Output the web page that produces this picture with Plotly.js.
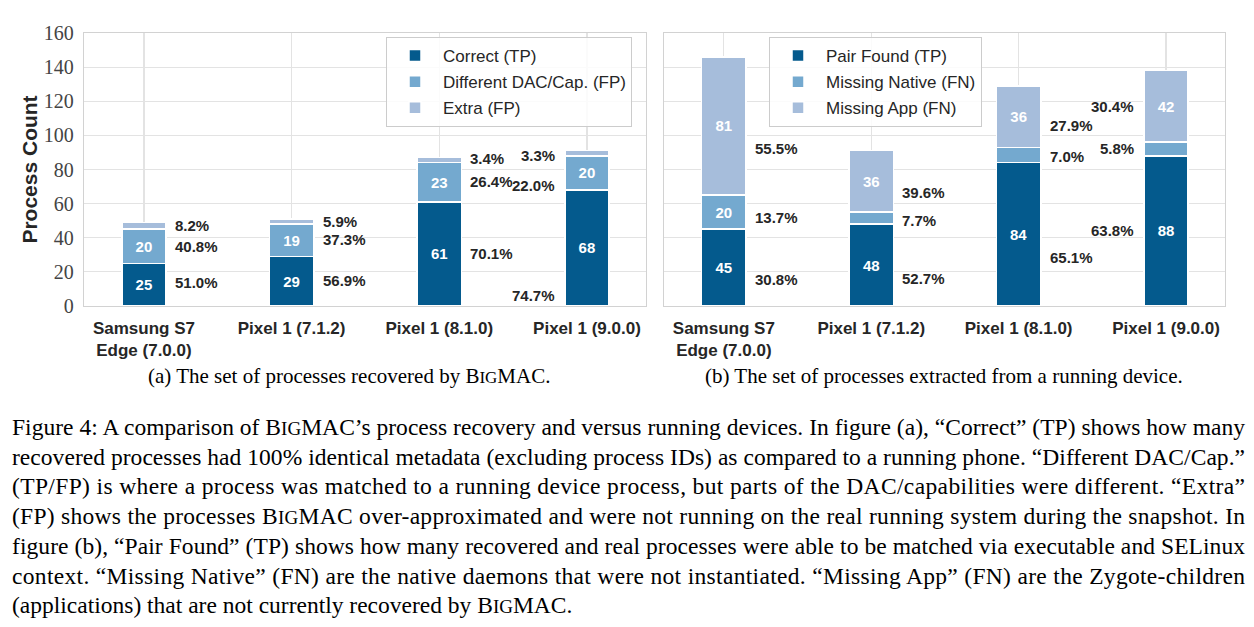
<!DOCTYPE html>
<html><head><meta charset="utf-8">
<script src="https://cdn.plot.ly/plotly-3.0.1.min.js"></script>
<style>html,body{margin:0;padding:0;background:#fff}</style>
</head><body><div id="chart" style="width:1254px;height:627px"></div>
<script>
// ---- data ----
const devices = ["Samsung S7<br>Edge (7.0.0)", "Pixel 1 (7.1.2)", "Pixel 1 (8.1.0)", "Pixel 1 (9.0.0)"];
// (a) recovered by BigMAC
const correct = [25, 29, 61, 68];
const diffDac = [20, 19, 23, 20];
const extra = [4, 3, 3, 3];
// (b) extracted from running device
const pairFound = [45, 48, 84, 88];
const missingNative = [20, 7, 9, 8];
const missingApp = [81, 36, 36, 42];
// vertical placement (value units) of the percentage labels
const pctYCorrect = [13.5, 15.2, 31, 6];
const pctYDiff = [34.6, 38.7, 72.7, 70.4];
const pctYExtra = [46.9, 49.8, 86.5, 88.1];
const pctYPair = [15.7, 16.4, 28.7, 44.5];
const pctYNative = [52, 50.4, 87.9, 92.6];
const pctYApp = [92.5, 66.8, 105.5, 117.2];
const pctSide = ["right", "right", "right", "left"];
const seriesA = ["Correct (TP)", "Different DAC/Cap. (FP)", "Extra (FP)"];
const seriesB = ["Pair Found (TP)", "Missing Native (FN)", "Missing App (FN)"];

// ---- styles ----
const COLORS = ["#045a8d", "#74a9cf", "#a6bddb"];
const SANS = "Liberation Sans, Arial, sans-serif";
const SERIF = "Liberation Serif, Times New Roman, serif";
const TXT = "#262626";
const BARW = 0.30;
const xs = [0, 1, 2, 3];

const L = 84, R = 1225, T = 33, B = 306;
const px = x => (x - L) / (R - L);
const py = y => (B - y) / (B - T);

const inLabel = v => v.map(d => d >= 10 ? String(d) : "");

function barTrace(vals, name, color, xa, ya, legend, grp) {
  return {
    type: "bar", x: xs, y: vals, width: BARW, name: name,
    xaxis: xa, yaxis: ya, legend: legend, legendgroup: grp,
    marker: {color: color, line: {color: "white", width: 1.5}},
    text: inLabel(vals), textposition: "inside", insidetextanchor: "middle",
    textangle: 0, constraintext: "none",
    textfont: {family: SANS, size: 15, color: "white", weight: "bold"},
    hoverinfo: "skip"
  };
}

const data = [
  barTrace(correct, seriesA[0], COLORS[0], "x", "y", "legend", "a1"),
  barTrace(diffDac, seriesA[1], COLORS[1], "x", "y", "legend", "a2"),
  barTrace(extra, seriesA[2], COLORS[2], "x", "y", "legend", "a3"),
  barTrace(pairFound, seriesB[0], COLORS[0], "x2", "y2", "legend2", "b1"),
  barTrace(missingNative, seriesB[1], COLORS[1], "x2", "y2", "legend2", "b2"),
  barTrace(missingApp, seriesB[2], COLORS[2], "x2", "y2", "legend2", "b3")
];

const annotations = [];
function pctLabels(seriesList, yList, xref, yref) {
  const totals = xs.map(i => seriesList.reduce((s, v) => s + v[i], 0));
  seriesList.forEach((vals, k) => {
    xs.forEach(i => {
      const right = pctSide[i] === "right";
      annotations.push({
        xref: xref, yref: yref, x: right ? i + BARW / 2 : i - BARW / 2, y: yList[k][i],
        xanchor: right ? "left" : "right", yanchor: "middle", xshift: right ? 7 : -8,
        showarrow: false, text: (vals[i] / totals[i] * 100).toFixed(1) + "%",
        font: {family: SANS, size: 15, color: TXT, weight: "bold"}
      });
    });
  });
}
pctLabels([correct, diffDac, extra], [pctYCorrect, pctYDiff, pctYExtra], "x", "y");
pctLabels([pairFound, missingNative, missingApp], [pctYPair, pctYNative, pctYApp], "x2", "y2");

const sc = size => "B<span style='font-size:" + size + "px'>IG</span>MAC";
annotations.push({xref: "paper", yref: "paper", x: px(348.5), y: py(376), xanchor: "center", yanchor: "middle",
  showarrow: false, text: "(a) The set of processes recovered by " + sc(17) + ".", font: {family: SERIF, size: 21, color: "#000"}});
annotations.push({xref: "paper", yref: "paper", x: px(943.5), y: py(376), xanchor: "center", yanchor: "middle",
  showarrow: false, text: "(b) The set of processes extracted from a running device.", font: {family: SERIF, size: 21, color: "#000"}});

const captionLines = [
  "Figure 4: A comparison of " + sc(19) + "’s process recovery and versus running devices. In figure (a), “Correct” (TP) shows how many",
  "recovered processes had 100% identical metadata (excluding process IDs) as compared to a running phone. “Different DAC/Cap.”",
  "(TP/FP) is where a process was matched to a running device process, but parts of the DAC/capabilities were different. “Extra”",
  "(FP) shows the processes " + sc(19) + " over-approximated and were not running on the real running system during the snapshot. In",
  "figure (b), “Pair Found” (TP) shows how many recovered and real processes were able to be matched via executable and SELinux",
  "context. “Missing Native” (FN) are the native daemons that were not instantiated. “Missing App” (FN) are the Zygote-children",
  "(applications) that are not currently recovered by " + sc(19) + "."
];
const captionStart = annotations.length;
captionLines.forEach((t, k) => {
  annotations.push({xref: "paper", yref: "paper", x: px(10), y: py(427 + k * 29.7), xanchor: "left", yanchor: "middle",
    showarrow: false, text: t, font: {family: SERIF, size: 23.5, color: "#000"}});
});

const xBase = {
  range: [-0.406, 3.40], tickvals: xs, ticktext: devices, showgrid: true, gridcolor: "#e3e3e3", gridwidth: 1.2,
  showline: true, mirror: true, linecolor: "#d2d2d2", linewidth: 1.3, zeroline: false,
  ticks: "outside", ticklen: 6, tickcolor: "rgba(0,0,0,0)",
  tickfont: {family: SANS, size: 17, color: TXT, weight: "bold"}, fixedrange: true
};
const yBase = {
  range: [0, 160], dtick: 20, showgrid: true, gridcolor: "#e3e3e3", gridwidth: 1.2,
  showline: true, mirror: true, linecolor: "#d2d2d2", linewidth: 1.3, zeroline: false,
  ticks: "outside", ticklen: 5, tickcolor: "rgba(0,0,0,0)", fixedrange: true,
  tickfont: {family: SERIF, size: 20, color: "#444"}
};
const legBase = {
  yanchor: "top", xanchor: "left", y: py(37), bgcolor: "rgba(255,255,255,0.85)",
  bordercolor: "#cccccc", borderwidth: 1, traceorder: "grouped", tracegroupgap: 1, itemwidth: 46,
  font: {family: SANS, size: 17, color: TXT}
};

const layout = {
  width: 1254, height: 627, margin: {l: L, r: 1254 - R, t: T, b: 627 - B},
  paper_bgcolor: "white", plot_bgcolor: "white", barmode: "stack", showlegend: true,
  xaxis: Object.assign({}, xBase, {domain: [0, px(646)], anchor: "y"}),
  yaxis: Object.assign({}, yBase, {anchor: "x",
    title: {text: "Process Count", standoff: 0, font: {family: SANS, size: 21, color: TXT, weight: "bold"}}}),
  xaxis2: Object.assign({}, xBase, {domain: [px(664), 1], anchor: "y2"}),
  yaxis2: Object.assign({}, yBase, {anchor: "x2", showticklabels: false}),
  legend: Object.assign({}, legBase, {x: px(386)}),
  legend2: Object.assign({}, legBase, {x: px(769)}),
  annotations: annotations
};

Plotly.newPlot("chart", data, layout, {displayModeBar: false, staticPlot: true}).then(gd => {
  // justify the caption lines (all but the last) to the text block width, like the typeset figure
  for (let k = 0; k < captionLines.length - 1; k++) {
    const el = gd.querySelector('g.annotation[data-index="' + (captionStart + k) + '"] text.annotation-text');
    if (el) {
      const bb = el.getBBox();
      el.setAttribute("text-anchor", "start");
      el.setAttribute("x", bb.x);
      el.setAttribute("textLength", 1233);
      el.setAttribute("lengthAdjust", "spacing");
    }
  }
});
</script></body></html>
